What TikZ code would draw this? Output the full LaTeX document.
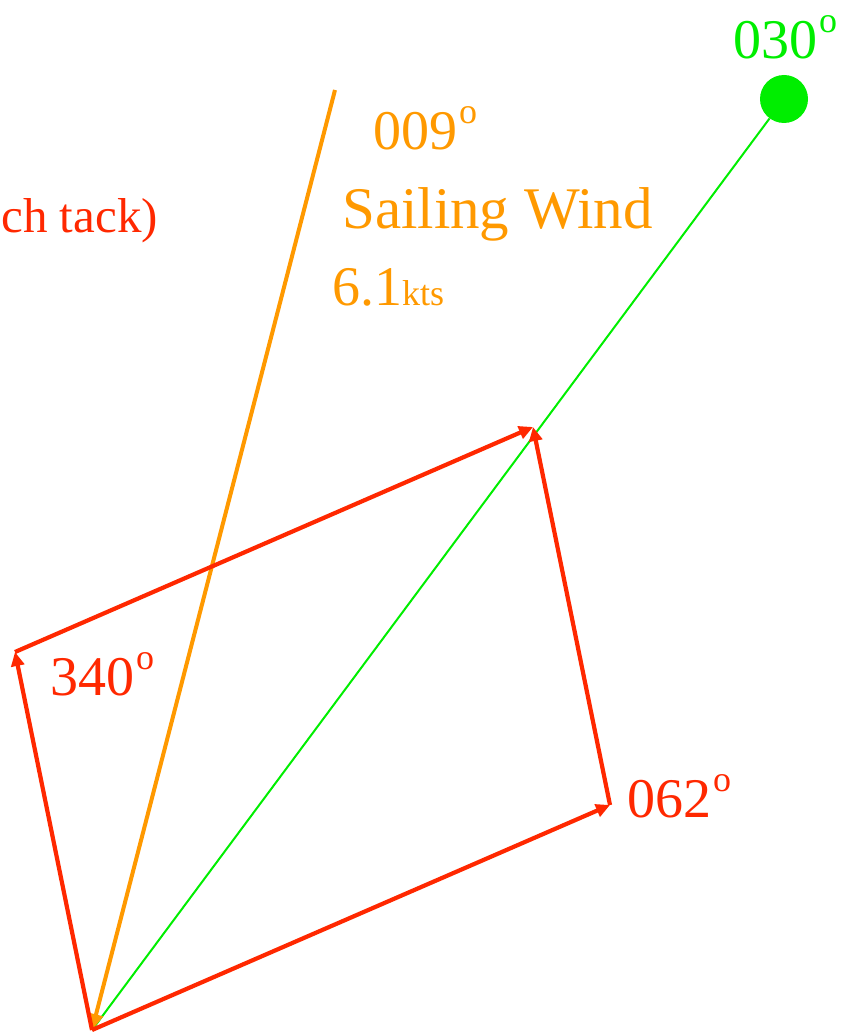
\documentclass[tikz,border=0pt]{standalone}
\usepackage{fontspec}
\setmainfont{Liberation Serif}
\usetikzlibrary{arrows.meta}
\definecolor{vred}{RGB}{255,40,0}
\definecolor{vorange}{RGB}{255,153,0}
\definecolor{vgreen}{RGB}{0,238,0}
\newcommand\mydego{\kern2pt\raisebox{26pt}{\fontsize{36}{36}\selectfont o}}
\tikzset{
  vec/.style={draw=vred,line width=4.2pt,-{Triangle[length=14pt,width=13pt]}},
  wind/.style={draw=vorange,line width=4pt,-{Triangle[length=16pt,width=14pt]}},
  course/.style={draw=vgreen,line width=2pt},
  big/.style={font=\fontsize{56}{60}\selectfont,inner sep=0pt},
}
\begin{document}
\begin{tikzpicture}[x=1pt,y=-1pt]
\useasboundingbox (0,0) rectangle (843,1035);
\clip (0,0) rectangle (843,1035);
\coordinate (O) at (92,1030);
\coordinate (A) at (610,805);
\coordinate (B) at (15,652);
\coordinate (C) at (533,427);
\coordinate (W) at (335,90);
\node[circle,fill=vgreen,minimum size=48pt,inner sep=0pt] (G) at (784,99) {};
\draw[course] (O) -- (G);
\draw[wind] (W) -- (O);
\draw[vec] (O) -- (A);
\draw[vec] (A) -- (C);
\draw[vec] (O) -- (B);
\draw[vec] (B) -- (C);
\node[big,text=vgreen,anchor=base west] (t030) at (733,59) {030\mydego};
\node[big,text=vorange,anchor=base west] (t009) at (373,150) {009\mydego};
\node[big,text=vorange,anchor=base west,font=\fontsize{59}{60}\selectfont] (tsw) at (342,228) {Sailing Wind};
\node[big,text=vorange,anchor=base west] (tkts) at (332,305) {6.1{\fontsize{36}{38}\selectfont kts}};
\node[big,text=vred,anchor=base east,font=\fontsize{49}{52}\selectfont] (ttack) at (158,232) {ch tack)};
\node[big,text=vred,anchor=base west] (t340) at (50,695) {340\mydego};
\node[big,text=vred,anchor=base west] (t062) at (627,817) {062\mydego};
\end{tikzpicture}
\end{document}
